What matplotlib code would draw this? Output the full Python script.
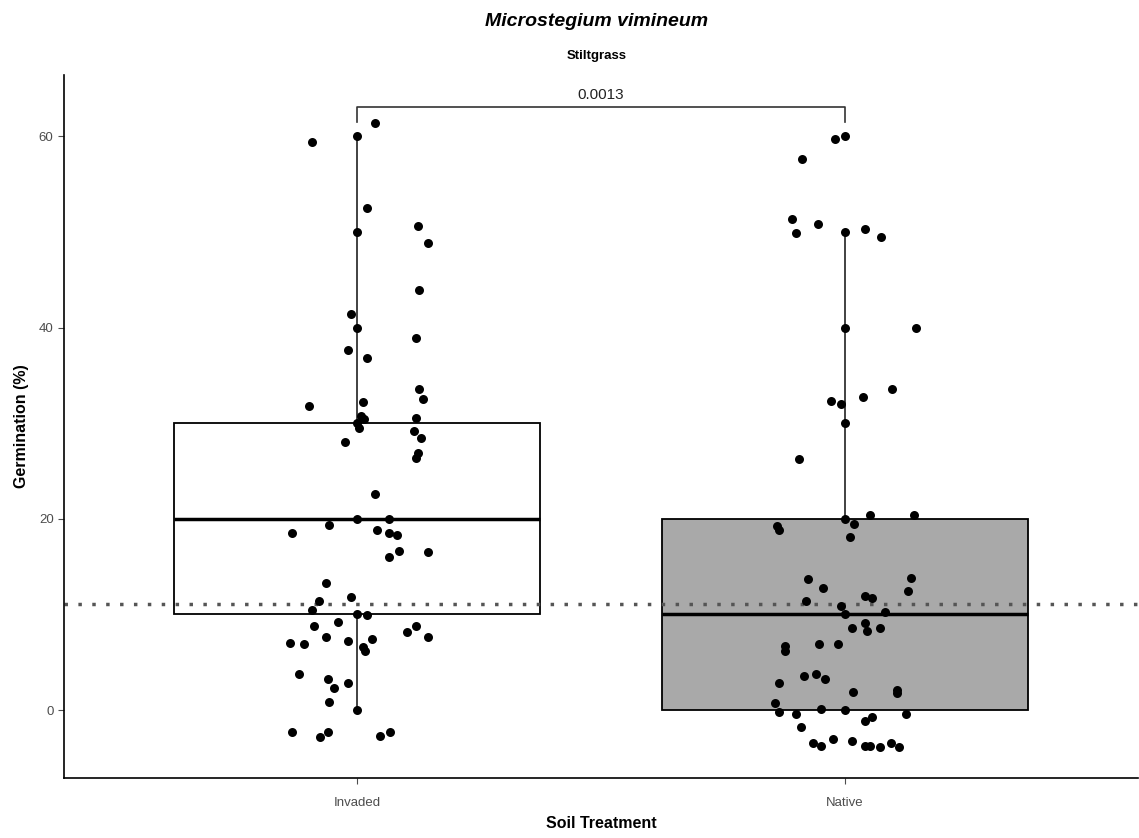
import matplotlib.pyplot as plt

plt.rcParams['font.family'] = ['Liberation Sans', 'DejaVu Sans']

# Data
groups = ["Invaded", "Native"]
box_colors = ["white", "#A9A9A9"]

# box stats: whislo, q1, med, q3, whishi
invaded_stats = [0, 10, 20, 30, 60]
native_stats = [0, 0, 10, 20, 50]

# jittered points (x offset from the group centre, germination %)
invaded_dx = [0.037, -0.092, 0.0, 0.020, 0.0, 0.125, 0.145, 0.127, -0.012, 0.0,
              0.121, -0.018, 0.020, 0.127, 0.135, -0.098, 0.012, 0.008, 0.014, 0.0,
              0.004, 0.121, 0.117, 0.131, -0.025, 0.125, 0.121, 0.037, 0.0, 0.065,
              -0.057, -0.133, 0.041, 0.065, 0.082, 0.086, 0.145, 0.065, -0.063, -0.012,
              -0.078, -0.092, 0.0, 0.020, -0.088, -0.039, 0.102, 0.121, 0.145, -0.063,
              -0.137, -0.108, -0.018, 0.031, 0.012, 0.016, -0.119, -0.059, -0.047, -0.018,
              -0.057, 0.0, -0.133, -0.076, -0.059, 0.047, 0.067]
invaded_y = [61.4, 59.4, 60.0, 52.5, 50.0, 50.6, 48.8, 43.9, 41.4, 40.0,
             38.9, 37.6, 36.8, 33.6, 32.5, 31.8, 32.2, 30.8, 30.4, 30.0,
             29.5, 30.5, 29.2, 28.4, 28.0, 26.9, 26.4, 22.6, 20.0, 20.0,
             19.3, 18.5, 18.8, 18.5, 18.3, 16.6, 16.5, 16.0, 13.3, 11.8,
             11.4, 10.5, 10.0, 9.9, 8.8, 9.2, 8.2, 8.8, 7.6, 7.6,
             7.0, 6.9, 7.2, 7.4, 6.6, 6.2, 3.8, 3.3, 2.3, 2.8,
             0.8, 0.0, -2.3, -2.8, -2.3, -2.7, -2.3]

native_dx = [0.0, -0.020, -0.088, -0.108, -0.100, -0.055, 0.0, 0.041, 0.074, 0.0,
             0.145, 0.096, 0.037, -0.029, -0.008, 0.0, -0.094, 0.0, 0.051, 0.141,
             -0.139, -0.135, 0.018, 0.010, -0.076, -0.045, 0.135, 0.129, -0.080, 0.041,
             0.055, -0.008, 0.0, 0.082, 0.014, 0.041, 0.045, 0.072, -0.123, -0.123,
             -0.053, -0.014, -0.135, -0.084, -0.059, -0.041, 0.016, 0.106, 0.106, -0.143,
             -0.135, -0.100, -0.049, 0.0, 0.125, 0.041, 0.055, -0.090, -0.065, -0.049,
             -0.025, 0.014, 0.041, 0.051, 0.072, 0.094, 0.110]
native_y = [60.0, 59.7, 57.6, 51.3, 49.9, 50.8, 50.0, 50.3, 49.5, 40.0,
            40.0, 33.6, 32.7, 32.3, 32.0, 30.0, 26.2, 20.0, 20.4, 20.4,
            19.2, 18.8, 19.5, 18.1, 13.7, 12.8, 13.8, 12.4, 11.4, 11.9,
            11.7, 10.9, 10.0, 10.3, 8.6, 9.1, 8.3, 8.6, 6.7, 6.2,
            6.9, 6.9, 2.8, 3.6, 3.8, 3.3, 1.9, 2.1, 1.8, 0.7,
            -0.2, -0.4, 0.1, 0.0, -0.4, -1.1, -0.7, -1.8, -3.4, -3.8,
            -3.0, -3.2, -3.8, -3.8, -3.9, -3.4, -3.9]

ref_line = 11.1
p_label = "0.0013"

fig = plt.figure(figsize=(11.39, 8.38), dpi=100)
ax = fig.add_axes([0.0562, 0.0716, 0.9430, 0.8389])

stats = []
for name, s in zip(groups, [invaded_stats, native_stats]):
    stats.append(dict(label=name, whislo=s[0], q1=s[1], med=s[2], q3=s[3], whishi=s[4]))

bp = ax.bxp(stats, positions=[0, 1], widths=0.75, showfliers=False, patch_artist=True,
            boxprops=dict(linewidth=1.3, edgecolor="black"),
            medianprops=dict(color="black", linewidth=2.5),
            whiskerprops=dict(color="#333333", linewidth=1.3),
            capprops=dict(linewidth=0))
for patch, c in zip(bp["boxes"], box_colors):
    patch.set_facecolor(c)
    patch.set_zorder(1)

ax.axhline(ref_line, color="#555555", linestyle=(0, (1, 3)), linewidth=2.5, zorder=2)

for i, (dx, yy) in enumerate([(invaded_dx, invaded_y), (native_dx, native_y)]):
    ax.scatter([i + d for d in dx], yy, s=42, color="black", zorder=3, linewidths=0)

# significance bracket
ax.plot([0, 0, 1, 1], [61.5, 63.1, 63.1, 61.5], color="#333333", linewidth=1.2)
ax.text(0.5, 63.6, p_label, ha="center", va="bottom", fontsize=11, color="#222222")

ax.set_xlim(-0.6, 1.6)
ax.set_ylim(-7.1, 66.4)
ax.set_xticks([0, 1])
ax.set_xticklabels(groups)
ax.set_yticks([0, 20, 40, 60])
for side in ["top", "right"]:
    ax.spines[side].set_visible(False)
for side in ["left", "bottom"]:
    ax.spines[side].set_linewidth(1.2)
ax.tick_params(colors="#4D4D4D", labelsize=9.5, length=4, width=0.8)
ax.tick_params(axis="x", pad=10)

ax.set_xlabel("Soil Treatment", fontsize=11.5, fontweight="bold", labelpad=5)
ax.set_ylabel("Germination (%)", fontsize=11.5, fontweight="bold", labelpad=7)

fig.text(0.524, 0.974, "Microstegium vimineum", ha="center", va="center",
         fontsize=14, fontweight="bold", fontstyle="italic")
fig.text(0.524, 0.933, "Stiltgrass", ha="center", va="center", fontsize=9.5, fontweight="bold")

fig.savefig("out.png", dpi=100)
